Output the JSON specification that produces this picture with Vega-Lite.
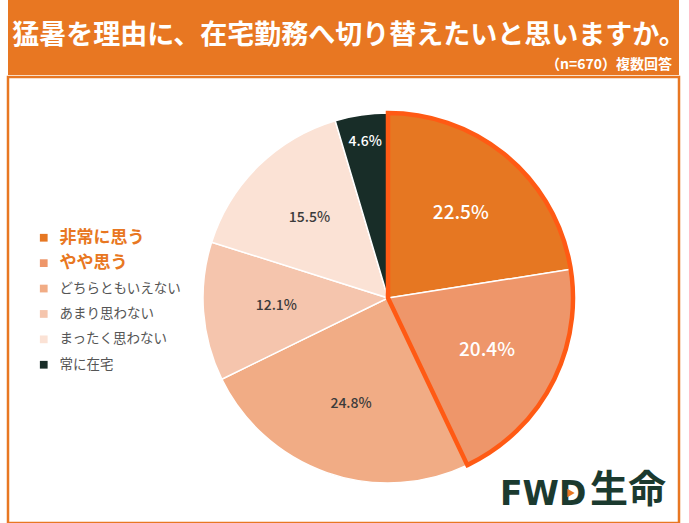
{
  "$schema": "https://vega.github.io/schema/vega-lite/v6.json",
  "background": "white",
  "padding": {"left": 6, "right": 12, "top": 0, "bottom": 2},
  "spacing": 0,
  "config": {"font": "Noto Sans CJK JP", "view": {"stroke": null}},
  "vconcat": [
    {
      "width": 671,
      "height": 75,
      "view": {"fill": "#E87722", "stroke": null},
      "data": {
        "values": [
          {"line": "title", "text": "猛暑を理由に、在宅勤務へ切り替えたいと思いますか。"},
          {"line": "note", "text": "（n=670）複数回答"}
        ]
      },
      "layer": [
        {
          "transform": [{"filter": "datum.line === 'title'"}],
          "mark": {"type": "text", "color": "white", "fontSize": 27, "fontWeight": "bold", "baseline": "middle", "align": "center", "x": 341, "y": 36},
          "encoding": {"text": {"field": "text"}}
        },
        {
          "transform": [{"filter": "datum.line === 'note'"}],
          "mark": {"type": "text", "color": "white", "fontSize": 14, "fontWeight": "bold", "baseline": "middle", "align": "right", "x": 664, "y": 65},
          "encoding": {"text": {"field": "text"}}
        }
      ]
    },
    {
      "width": 671,
      "height": 446,
      "view": {"fill": "white", "stroke": "#E87722", "strokeWidth": 2.5},
      "layer": [
        {
          "data": {
            "values": [
              {"cat": "非常に思う", "share": 0.225, "i": 1},
              {"cat": "やや思う", "share": 0.204, "i": 2},
              {"cat": "どちらともいえない", "share": 0.248, "i": 3},
              {"cat": "あまり思わない", "share": 0.121, "i": 4},
              {"cat": "まったく思わない", "share": 0.155, "i": 5},
              {"cat": "常に在宅", "share": 0.046, "i": 6}
            ]
          },
          "layer": [
            {
              "mark": {"type": "arc", "radius": 185, "stroke": "white", "strokeWidth": 1.5, "x": 380, "y": 221},
              "encoding": {
                "theta": {"field": "share", "type": "quantitative", "stack": true},
                "order": {"field": "i", "type": "quantitative"},
                "color": {
                  "field": "cat",
                  "type": "nominal",
                  "scale": {
                    "domain": ["非常に思う", "やや思う", "どちらともいえない", "あまり思わない", "まったく思わない", "常に在宅"],
                    "range": ["#E67722", "#EE966A", "#F1AC85", "#F5C5AD", "#FBE2D5", "#182D28"]
                  },
                  "legend": {
                    "title": null,
                    "orient": "none",
                    "legendX": 29,
                    "legendY": 231,
                    "padding": 0,
                    "gridAlign": "all",
                    "symbolType": "square",
                    "symbolSize": 60,
                    "symbolStrokeWidth": 0,
                    "labelOffset": 9,
                    "rowPadding": 7.4,
                    "labelLimit": 300,
                    "labelColor": {"expr": "indexof(['非常に思う', 'やや思う'], datum.value) >= 0 ? '#E87722' : '#555555'"},
                    "labelFontSize": {"expr": "indexof(['非常に思う', 'やや思う'], datum.value) >= 0 ? 17 : 13.5"},
                    "labelFontWeight": {"expr": "indexof(['非常に思う', 'やや思う'], datum.value) >= 0 ? 'bold' : 'normal'"}
                  }
                }
              }
            },
            {
              "mark": {"type": "text", "fontWeight": 500, "baseline": "middle", "align": "center", "x": 380, "y": 221, "radius": {"expr": "datum.share < 0.06 ? 158 : 112"}},
              "encoding": {
                "theta": {"field": "share", "type": "quantitative", "stack": true},
                "order": {"field": "i", "type": "quantitative"},
                "text": {"field": "share", "type": "quantitative", "format": ".1%"},
                "color": {"condition": {"test": "datum.i <= 2 || datum.i == 6", "value": "white"}, "value": "#3B3B3B"},
                "size": {"condition": {"test": "datum.i <= 2", "value": 19}, "value": 14}
              }
            }
          ]
        },
        {
          "data": {
            "values": [
              {"g": "思う", "share": 0.429, "i": 1},
              {"g": "その他", "share": 0.57, "i": 2}
            ]
          },
          "mark": {"type": "arc", "radius": 185, "filled": false, "color": "#FF5A14", "strokeWidth": 4.5, "strokeJoin": "miter", "x": 380, "y": 221},
          "encoding": {
            "theta": {"field": "share", "type": "quantitative", "stack": true},
            "order": {"field": "i", "type": "quantitative"},
            "strokeOpacity": {"condition": {"test": "datum.g === '思う'", "value": 1}, "value": 0}
          }
        },
        {
          "data": {"values": [{"brand": "FWD", "name": "生命"}]},
          "layer": [
            {
              "mark": {"type": "text", "font": "DejaVu Sans", "color": "#1B3A2F", "fontSize": 33, "fontWeight": "bold", "align": "left", "baseline": "alphabetic", "x": 492, "y": 428},
              "encoding": {"text": {"field": "brand"}}
            },
            {
              "mark": {"type": "point", "shape": "triangle-right", "filled": true, "color": "#E87722", "opacity": 1, "size": 70, "x": 563, "y": 416},
              "encoding": {}
            },
            {
              "mark": {"type": "text", "color": "#1B3A2F", "fontSize": 38, "fontWeight": "bold", "align": "right", "baseline": "middle", "x": 658, "y": 414},
              "encoding": {"text": {"field": "name"}}
            }
          ]
        }
      ]
    }
  ]
}
